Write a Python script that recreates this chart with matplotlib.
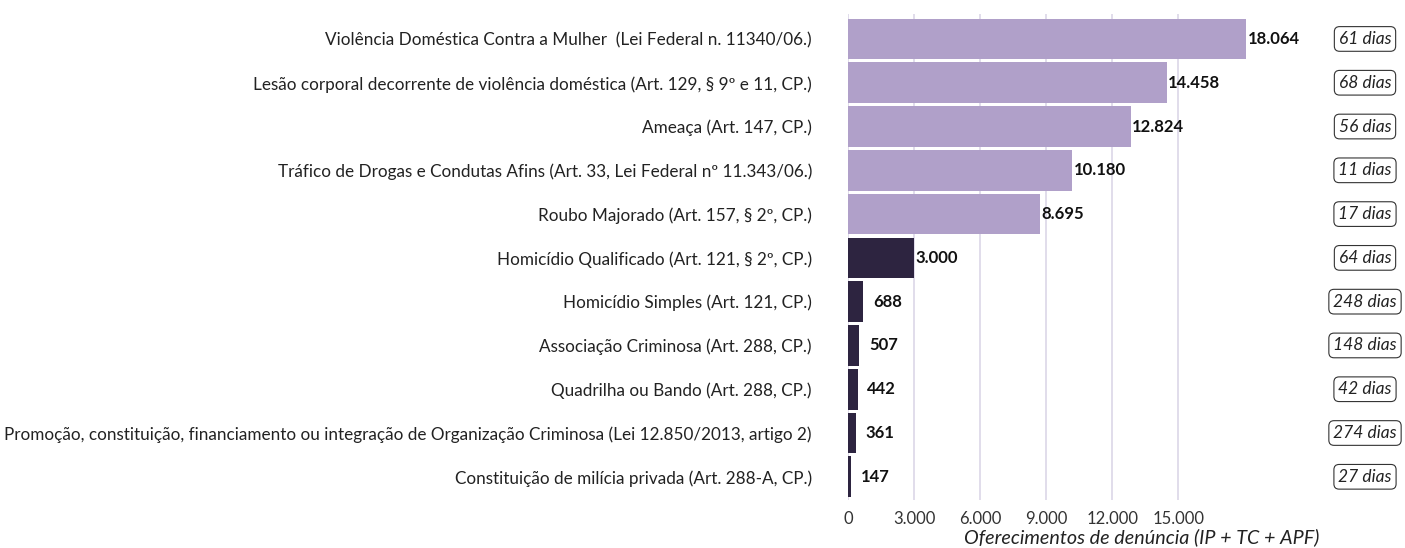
import matplotlib
matplotlib.use("Agg")
import matplotlib.pyplot as plt
from matplotlib.transforms import blended_transform_factory

plt.rcParams['font.family'] = ['Lato', 'DejaVu Sans']

categories = [
    "Violência Doméstica Contra a Mulher  (Lei Federal n. 11340/06.)",
    "Lesão corporal decorrente de violência doméstica (Art. 129, § 9º e 11, CP.)",
    "Ameaça (Art. 147, CP.)",
    "Tráfico de Drogas e Condutas Afins (Art. 33, Lei Federal nº 11.343/06.)",
    "Roubo Majorado (Art. 157, § 2º, CP.)",
    "Homicídio Qualificado (Art. 121, § 2º, CP.)",
    "Homicídio Simples (Art. 121, CP.)",
    "Associação Criminosa (Art. 288, CP.)",
    "Quadrilha ou Bando (Art. 288, CP.)",
    "Promoção, constituição, financiamento ou integração de Organização Criminosa (Lei 12.850/2013, artigo 2)",
    "Constituição de milícia privada (Art. 288-A, CP.)",
]
values = [18064, 14458, 12824, 10180, 8695, 3000, 688, 507, 442, 361, 147]
value_labels = ["18.064", "14.458", "12.824", "10.180", "8.695", "3.000", "688", "507", "442", "361", "147"]
dias = ["61 dias", "68 dias", "56 dias", "11 dias", "17 dias", "64 dias", "248 dias", "148 dias", "42 dias", "274 dias", "27 dias"]
highlight = [True, True, True, True, True, False, False, False, False, False, False]
xticks = [0, 3000, 6000, 9000, 12000, 15000]
xtick_labels = ["0", "3.000", "6.000", "9.000", "12.000", "15.000"]
xlabel = "Oferecimentos de denúncia (IP + TC + APF)"

LIGHT = "#b0a0c9"
DARK = "#2d2440"
GRID = "#dcd7e8"
TEXT = "#222222"

W, H = 1405, 548
fig = plt.figure(figsize=(W / 100, H / 100), dpi=100)
x0, x1 = 848, 1326
ytop, ybot = 14, 500
ax = fig.add_axes([x0 / W, 1 - ybot / H, (x1 - x0) / W, (ybot - ytop) / H])

n = len(categories)
ypos = list(range(n))
colors = [LIGHT if h else DARK for h in highlight]
ax.barh(ypos, values, height=0.93, color=colors, zorder=2)

ax.set_xlim(0, (x1 - x0) / 66.1 * 3000)
ax.set_ylim(n - 1 + 0.53, -0.57)

for x in xticks:
    ax.axvline(x, color=GRID, lw=1.2, zorder=1)

ax.set_xticks(xticks)
ax.set_xticklabels(xtick_labels, fontsize=12, color="#333333")
ax.set_yticks(ypos)
ax.set_yticklabels(categories, fontsize=12.3, color=TEXT)
ax.tick_params(axis='both', length=0)
ax.tick_params(axis='y', pad=26)
ax.tick_params(axis='x', pad=8)
for s in ax.spines.values():
    s.set_visible(False)

ax.set_xlabel(xlabel, fontsize=14.2, style='italic', color=TEXT, loc='right', labelpad=1)
ax.xaxis.label.set_x((1319 - x0) / (x1 - x0))

for y, v, lab in zip(ypos, values, value_labels):
    off = 7 if v < 1000 else 1
    ax.annotate(lab, xy=(v, y), xytext=(off, 0), textcoords='offset points',
                ha='left', va='center', fontsize=12, fontweight='bold', color="#111111")

tr = blended_transform_factory(fig.transFigure, ax.transData)
for y, d in zip(ypos, dias):
    ax.text(1365 / W, y, d, transform=tr, ha='center', va='center', fontsize=12.5,
            style='italic', color=TEXT, clip_on=False,
            bbox=dict(boxstyle='round,pad=0.25,rounding_size=0.3', fc='white', ec='#333333', lw=0.8))

fig.savefig("out.png", dpi=100)
